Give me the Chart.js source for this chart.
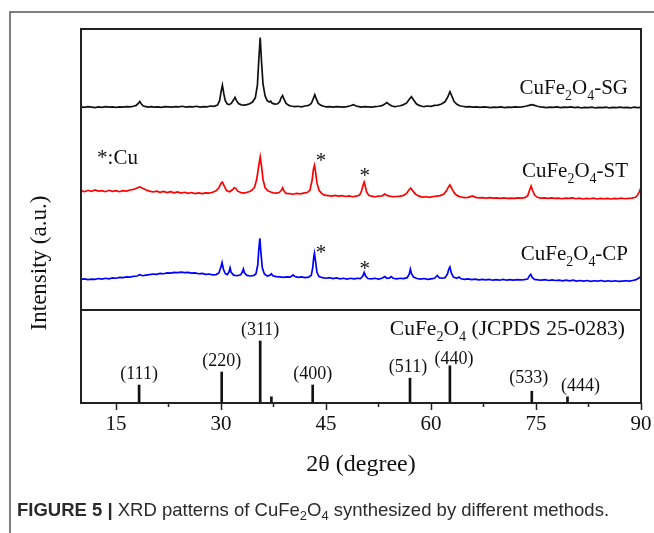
<!DOCTYPE html>
<html>
<head>
<meta charset="utf-8">
<script src="https://cdn.jsdelivr.net/npm/chart.js@4.4.0/dist/chart.umd.min.js"></script>
<style>
  html, body { margin: 0; padding: 0; background: #fff; }
  #wrap { width: 654px; height: 533px; position: relative; }
</style>
</head>
<body>
<div id="wrap"><canvas id="xrdChart"></canvas></div>
<script>
// 2θ axis
const xTicks = [15, 30, 45, 60, 75, 90];
const xMinorTicks = [22.5, 37.5, 52.5, 67.5, 82.5];

// measured patterns: [2θ, intensity above the pattern's own offset]
const sgPattern = [
  [10,0.3],[10.5,0.1],[11,0.4],[11.5,0.2],[12,0.0],[12.5,0.3],[13,0.1],[13.5,0.4],[14,0.2],[14.5,0.3],
  [15,0.1],[15.5,0.3],[16,0.2],[16.5,0.4],[17,0.3],[17.5,0.5],[17.9,0.8],[18.2,1.6],[18.4,2.2],[18.6,1.4],
  [18.9,0.6],[19.3,0.4],[19.5,0.2],[20,0.4],[20.5,0.2],[21,0.3],[21.5,0.1],[22,0.4],[22.5,0.3],[23,0.2],
  [23.5,0.4],[24,0.3],[24.5,0.5],[25,0.2],[25.5,0.4],[26,0.3],[26.5,0.5],[27,0.2],[27.5,0.4],[28,0.3],
  [28.5,0.6],[29,0.5],[29.5,0.9],[29.8,2.5],[30.0,5.5],[30.2,8.0],[30.4,5.0],[30.6,2.6],[30.9,1.3],[31.2,1.1],
  [31.5,1.6],[31.8,2.8],[32.0,3.7],[32.2,2.6],[32.5,1.5],[32.9,1.0],[33.3,0.9],[33.7,1.1],[34.1,1.4],[34.5,2.0],
  [34.9,3.5],[35.2,8.0],[35.4,17.0],[35.6,25.0],[35.8,16.0],[36.0,8.5],[36.3,4.2],[36.6,2.5],[36.9,2.0],[37.1,2.3],
  [37.3,1.6],[37.7,1.3],[38.1,1.4],[38.4,2.2],[38.6,3.6],[38.8,4.3],[39.0,3.0],[39.3,1.5],[39.7,0.8],[40.0,0.6],
  [40.5,0.4],[41,0.5],[41.5,0.3],[42,0.6],[42.5,0.8],[42.9,1.5],[43.2,3.3],[43.4,4.6],[43.6,3.2],[43.9,1.5],
  [44.3,0.8],[44.7,0.5],[45,0.3],[45.5,0.4],[46,0.2],[46.5,0.4],[47,0.3],[47.5,0.2],[48,0.4],[48.5,0.7],
  [48.9,1.1],[49.3,0.6],[49.7,0.4],[50,0.2],[50.5,0.4],[51,0.3],[51.5,0.2],[52,0.4],[52.5,0.5],[53,0.7],
  [53.4,1.3],[53.7,1.8],[54.0,1.2],[54.4,0.6],[54.8,0.4],[55.2,0.5],[55.6,0.7],[56.0,1.0],[56.5,1.6],[56.9,3.0],
  [57.2,3.9],[57.5,2.8],[57.9,1.4],[58.3,0.8],[58.7,0.5],[59,0.4],[59.5,0.6],[60,0.5],[60.5,0.8],[61,0.9],
  [61.5,1.3],[62.0,2.1],[62.4,3.8],[62.7,5.7],[63.0,4.0],[63.3,2.2],[63.7,1.2],[64.1,0.7],[64.5,0.5],[65,0.3],
  [65.5,0.4],[66,0.2],[66.5,0.3],[67,0.1],[67.5,0.3],[68,0.2],[68.5,0.0],[69,0.2],[69.5,0.1],[70,0.3],
  [70.5,0.0],[71,0.2],[71.5,0.1],[72,0.3],[72.5,0.2],[73,0.3],[73.5,0.5],[74,0.8],[74.4,1.1],[74.8,0.8],
  [75.2,0.5],[75.6,0.3],[76,0.2],[76.5,0.0],[77,0.2],[77.5,0.1],[78,0.3],[78.5,0.0],[79,0.2],[79.5,0.1],
  [80,0.3],[80.5,0.0],[81,0.2],[81.5,-0.1],[82,0.1],[82.5,0.0],[83,0.2],[83.5,-0.1],[84,0.1],[84.5,0.0],
  [85,0.2],[85.5,-0.1],[86,0.1],[86.5,0.0],[87,0.2],[87.5,0.0],[88,0.1],[88.5,-0.1],[89,0.2],[89.5,0.0],[90,0.1]
];
const stPattern = [
  [10,3.0],[10.5,2.6],[11,3.1],[11.5,2.7],[12,3.2],[12.5,2.8],[13,3.0],[13.5,2.6],[14,3.1],[14.5,2.7],
  [15,3.0],[15.5,2.6],[16,3.0],[16.5,2.8],[17,3.2],[17.5,3.4],[18.0,3.9],[18.4,4.3],[18.8,3.8],[19.3,3.2],
  [19.8,2.8],[20.3,2.5],[20.8,2.8],[21.3,2.4],[21.8,2.7],[22.3,2.3],[22.8,2.6],[23.3,2.2],[23.8,2.5],[24.3,2.1],
  [24.8,2.4],[25.3,2.0],[25.8,2.3],[26.3,1.9],[26.8,2.2],[27.3,1.9],[27.8,2.2],[28.3,2.1],[28.8,2.4],[29.3,2.9],
  [29.7,4.0],[30.0,5.6],[30.2,6.0],[30.5,4.4],[30.8,3.0],[31.2,2.6],[31.6,3.2],[31.9,4.0],[32.1,3.8],[32.4,2.8],
  [32.8,2.3],[33.2,2.1],[33.6,2.3],[34.0,2.6],[34.4,3.1],[34.8,4.2],[35.1,7.0],[35.4,12.0],[35.6,15.0],[35.8,11.5],
  [36.0,7.0],[36.3,4.0],[36.7,2.9],[37.1,2.5],[37.5,2.2],[37.9,2.1],[38.3,2.3],[38.6,3.0],[38.8,4.0],[39.0,2.8],
  [39.3,2.0],[39.8,1.9],[40.3,1.7],[40.8,2.0],[41.3,1.8],[41.8,2.1],[42.3,2.3],[42.7,3.1],[43.0,6.5],[43.2,10.5],
  [43.35,12.0],[43.5,9.8],[43.7,5.8],[44.0,3.1],[44.4,1.9],[44.8,1.4],[45.3,1.2],[45.8,1.0],[46.3,1.3],[46.8,1.0],
  [47.3,1.2],[47.8,0.9],[48.3,1.1],[48.8,0.8],[49.3,1.0],[49.8,1.4],[50.1,3.0],[50.3,5.0],[50.45,6.0],[50.6,4.6],
  [50.8,2.5],[51.1,1.3],[51.5,1.0],[52.0,0.8],[52.5,1.0],[53.0,1.1],[53.4,1.8],[53.7,1.3],[54.1,1.0],[54.6,0.8],
  [55.1,0.9],[55.6,1.0],[56.1,1.3],[56.5,2.0],[56.9,3.4],[57.1,3.9],[57.4,2.9],[57.8,1.7],[58.3,1.0],[58.8,0.7],
  [59.3,0.8],[59.8,0.6],[60.3,0.9],[60.8,1.0],[61.3,1.2],[61.8,1.7],[62.2,2.9],[62.5,4.3],[62.7,5.0],[63.0,3.6],
  [63.4,1.9],[63.8,1.1],[64.3,0.7],[64.8,0.5],[65.3,0.6],[65.9,1.1],[66.4,0.6],[66.9,0.4],[67.4,0.5],[67.9,0.3],
  [68.4,0.5],[68.9,0.3],[69.4,0.4],[69.9,0.2],[70.4,0.4],[70.9,0.2],[71.4,0.3],[71.9,0.2],[72.4,0.4],[72.9,0.3],
  [73.4,0.5],[73.8,1.1],[74.1,3.3],[74.3,4.6],[74.5,3.1],[74.8,1.4],[75.2,0.6],[75.7,0.3],[76.2,0.4],[76.7,0.2],
  [77.2,0.4],[77.7,0.2],[78.2,0.3],[78.7,0.1],[79.2,0.3],[79.7,0.2],[80.2,0.4],[80.7,0.1],[81.2,0.3],[81.7,0.0],
  [82.2,0.2],[82.7,0.1],[83.2,0.3],[83.7,0.0],[84.2,0.2],[84.7,0.1],[85.2,0.2],[85.7,0.0],[86.2,0.2],[86.7,0.1],
  [87.2,0.3],[87.7,0.1],[88.2,0.2],[88.7,0.3],[89.2,0.6],[89.5,1.3],[89.8,2.8],[90.0,4.1]
];
const cpPattern = [
  [10,0.9],[10.5,1.1],[11,0.8],[11.5,1.0],[12,0.9],[12.5,1.2],[13,1.0],[13.5,1.3],[14,1.1],[14.5,1.4],
  [15,1.3],[15.5,1.6],[16,1.5],[16.5,1.8],[17,1.7],[17.5,2.0],[18,2.1],[18.4,2.6],[18.8,2.2],[19.3,2.4],
  [19.8,2.6],[20.3,2.8],[20.8,2.7],[21.3,3.0],[21.8,2.9],[22.3,3.2],[22.8,3.1],[23.3,3.4],[23.8,3.3],[24.3,3.5],
  [24.8,3.3],[25.3,3.4],[25.8,3.1],[26.3,3.2],[26.8,2.9],[27.3,3.0],[27.8,2.7],[28.3,2.8],[28.8,2.5],[29.3,2.6],
  [29.7,3.2],[29.95,5.0],[30.15,6.9],[30.35,4.5],[30.6,3.0],[30.9,2.6],[31.15,3.6],[31.3,5.0],[31.45,3.4],[31.8,2.4],
  [32.3,2.2],[32.8,2.5],[33.05,3.5],[33.2,4.6],[33.35,3.2],[33.7,2.3],[34.2,2.1],[34.7,2.3],[35.0,2.9],[35.25,6.0],
  [35.4,11.5],[35.55,15.5],[35.7,10.5],[35.9,5.0],[36.2,2.8],[36.6,2.1],[37.0,2.4],[37.2,2.9],[37.4,2.2],[37.9,1.9],
  [38.4,1.8],[38.9,1.6],[39.4,1.8],[39.9,1.7],[40.3,2.5],[40.5,2.0],[41.0,1.6],[41.5,1.8],[42.0,1.5],[42.5,1.7],
  [42.9,2.4],[43.1,5.0],[43.25,8.8],[43.35,10.2],[43.5,7.5],[43.7,3.5],[44.0,1.9],[44.5,1.5],[45.0,1.3],[45.5,1.5],
  [46.0,1.2],[46.5,1.4],[47.0,1.1],[47.5,1.3],[48.0,1.0],[48.5,1.3],[49.0,1.1],[49.5,1.3],[49.9,1.2],[50.25,2.0],
  [50.45,3.4],[50.65,2.1],[51.0,1.2],[51.5,1.1],[52.0,1.3],[52.5,1.0],[53.0,1.3],[53.4,1.9],[53.7,1.3],[54.1,1.4],
  [54.3,1.9],[54.6,1.3],[55.1,1.1],[55.6,1.3],[56.1,1.2],[56.6,1.5],[56.9,2.8],[57.05,4.5],[57.2,3.0],[57.5,1.7],
  [58.0,1.2],[58.5,1.0],[59.0,1.2],[59.5,0.9],[60.0,1.1],[60.5,1.3],[60.9,2.3],[61.2,1.4],[61.6,1.3],[62.0,1.5],
  [62.35,2.8],[62.55,4.6],[62.7,5.3],[62.9,3.2],[63.2,1.7],[63.7,1.3],[64.0,1.7],[64.3,1.1],[64.8,0.9],[65.3,1.1],
  [65.8,0.8],[66.3,1.0],[66.8,0.7],[67.3,0.9],[67.8,0.7],[68.3,0.9],[68.8,0.6],[69.3,0.8],[69.8,0.6],[70.3,0.9],
  [70.8,0.6],[71.3,0.8],[71.8,0.6],[72.3,0.8],[72.8,0.7],[73.3,0.8],[73.8,1.0],[74.1,2.3],[74.25,2.7],[74.45,1.6],
  [74.8,0.9],[75.3,0.7],[75.8,0.6],[76.3,0.8],[76.8,0.5],[77.3,0.7],[77.8,0.5],[78.3,0.6],[78.8,0.4],[79.3,0.6],
  [79.8,0.4],[80.3,0.6],[80.8,0.3],[81.3,0.5],[81.8,0.3],[82.3,0.5],[82.8,0.2],[83.3,0.4],[83.8,0.3],[84.3,0.5],
  [84.8,0.2],[85.3,0.4],[85.8,0.2],[86.3,0.4],[86.8,0.2],[87.3,0.3],[87.8,0.4],[88.3,0.3],[88.8,0.5],[89.3,0.8],
  [89.7,1.4],[90.0,1.9]
];
const patterns = [sgPattern, stPattern, cpPattern];
const sampleNames = ['SG', 'ST', 'CP'];
const sampleOffsets = [72, 39.5, 10];
const sampleColors = ['#111111', '#ff0000', '#0000ff'];

// CuFe2O4 reference, JCPDS 25-0283
const refPositions = [18.3, 30.1, 35.6, 37.2, 43.1, 57.0, 62.7, 74.4, 79.5];
const refIntensity = [29, 50, 100, 10, 29, 40, 60, 19, 10];
const refHkl = ['(111)', '(220)', '(311)', '', '(400)', '(511)', '(440)', '(533)', '(444)'];

// metallic Cu reflections marked with *
const cuPeaks = [43.3, 50.4];

// label placement (pixels), kept apart from the data
const hklShift = [[0, 11], [0, 11], [0, 11], [0, 11], [0, 11], [-2, 11], [4, 7], [-3, 13], [13, 11]];
const starShift = { ST: [[7, -8], [1, -10]], CP: [[7, -4], [1, -7]] };
const nameLabelY = [79.4, 49.8, 20.3];

const SERIF = '"Liberation Serif", "Times New Roman", serif';
const INK = '#111';

function drawFormula(ctx, parts, x, y, size, align) {
    // parts: [text, kind]; kind 'sub' = subscript
    const fontOf = (p) => {
        if (p[1] === 'sub') return (size * 0.66).toFixed(1) + 'px ' + SERIF;
        return size + 'px ' + SERIF;
    };
    let total = 0;
    parts.forEach(p => { ctx.font = fontOf(p); total += ctx.measureText(p[0]).width; });
    let cx = align === 'right' ? x - total : (align === 'center' ? x - total / 2 : x);
    ctx.textAlign = 'left';
    ctx.textBaseline = 'alphabetic';
    parts.forEach(p => {
        ctx.font = fontOf(p);
        ctx.fillText(p[0], cx, y + (p[1] === 'sub' ? size * 0.28 : 0));
        cx += ctx.measureText(p[0]).width;
    });
}

function peakTop(pattern, pos) {
    let best = -Infinity;
    pattern.forEach(p => { if (Math.abs(p[0] - pos) < 0.4 && p[1] > best) best = p[1]; });
    return best;
}

const decorPlugin = {
    id: 'decor',
    afterDraw(chart) {
        const { ctx, chartArea: a, scales } = chart;
        const x = scales.x, y = scales.y, yRef = scales.yRef;
        ctx.save();

        // outer figure frame
        ctx.strokeStyle = '#555';
        ctx.lineWidth = 1.5;
        ctx.beginPath();
        ctx.moveTo(10, chart.height);
        ctx.lineTo(10, 12);
        ctx.lineTo(chart.width, 12);
        ctx.stroke();

        // plot box and panel divider
        ctx.strokeStyle = '#222';
        ctx.lineWidth = 2;
        ctx.strokeRect(a.left, a.top, a.right - a.left, a.bottom - a.top);
        ctx.beginPath();
        ctx.moveTo(a.left, y.bottom);
        ctx.lineTo(a.right, y.bottom);
        ctx.stroke();

        // minor ticks
        ctx.lineWidth = 1.5;
        ctx.beginPath();
        xMinorTicks.forEach(v => {
            const px = x.getPixelForValue(v);
            ctx.moveTo(px, a.bottom);
            ctx.lineTo(px, a.bottom + 4);
        });
        ctx.stroke();

        ctx.fillStyle = INK;

        // sample names
        sampleNames.forEach((n, i) => {
            const py = y.getPixelForValue(nameLabelY[i]);
            drawFormula(ctx, [['CuFe', ''], ['2', 'sub'], ['O', ''], ['4', 'sub'], ['-' + n, '']],
                a.right - 13, py + 7, 21, 'right');
        });

        // Cu markers
        ctx.font = '21px ' + SERIF;
        ctx.textAlign = 'center';
        ctx.textBaseline = 'alphabetic';
        [['ST', 1], ['CP', 2]].forEach(([n, i]) => {
            cuPeaks.forEach((pos, k) => {
                const top = peakTop(patterns[i], pos) + sampleOffsets[i];
                const s = starShift[n][k];
                ctx.fillText('*', x.getPixelForValue(pos) + s[0], y.getPixelForValue(top) + s[1] + 10);
            });
        });
        ctx.textAlign = 'left';
        ctx.fillText('*:Cu', x.getPixelForValue(12.3), y.getPixelForValue(54.5) + 7);

        // hkl labels
        ctx.font = '18px ' + SERIF;
        ctx.textAlign = 'center';
        ctx.textBaseline = 'middle';
        refHkl.forEach((t, i) => {
            if (!t) return;
            const px = x.getPixelForValue(refPositions[i]) + hklShift[i][0];
            const py = yRef.getPixelForValue(refIntensity[i]) - hklShift[i][1];
            ctx.fillText(t, px, py);
        });

        // reference card label
        drawFormula(ctx, [['CuFe', ''], ['2', 'sub'], ['O', ''], ['4', 'sub'], [' (JCPDS 25-0283)', '']],
            a.right - 16, yRef.getPixelForValue(121) + 7, 21.5, 'right');

        // y axis title
        ctx.save();
        ctx.translate(40, 263);
        ctx.rotate(-Math.PI / 2);
        ctx.font = '23px ' + SERIF;
        ctx.textAlign = 'center';
        ctx.textBaseline = 'middle';
        ctx.fillText('Intensity (a.u.)', 0, 0);
        ctx.restore();

        // caption
        const sans = '"Liberation Sans", Arial, sans-serif';
        const cap = [
            ['FIGURE 5', 'bold 18.5px ' + sans, 0],
            [' | ', 'bold 18.5px ' + sans, 0],
            ['XRD patterns of CuFe', '18.5px ' + sans, 0],
            ['2', '13px ' + sans, 4],
            ['O', '18.5px ' + sans, 0],
            ['4', '13px ' + sans, 4],
            [' synthesized by different methods.', '18.5px ' + sans, 0]
        ];
        ctx.fillStyle = '#2b2b2b';
        ctx.textAlign = 'left';
        ctx.textBaseline = 'alphabetic';
        let cx = 17;
        cap.forEach(c => {
            ctx.font = c[1];
            ctx.fillText(c[0], cx, 516 + c[2]);
            cx += ctx.measureText(c[0]).width;
        });

        ctx.restore();
    }
};

const datasets = patterns.map((pat, i) => ({
    label: 'CuFe2O4-' + sampleNames[i],
    data: pat.map(p => ({ x: p[0], y: p[1] + sampleOffsets[i] })),
    borderColor: sampleColors[i],
    borderWidth: 1.7,
    pointRadius: 0,
    tension: 0,
    yAxisID: 'y'
}));
datasets.push({
    type: 'bar',
    label: 'JCPDS 25-0283',
    data: refPositions.map((p, i) => ({ x: p, y: refIntensity[i] })),
    backgroundColor: INK,
    barThickness: 2,
    yAxisID: 'yRef'
});

new Chart(document.getElementById('xrdChart'), {
    type: 'line',
    data: { datasets },
    options: {
        responsive: true,
        maintainAspectRatio: false,
        animation: false,
        devicePixelRatio: 1,
        events: [],
        layout: { padding: { left: 0, right: 13, top: 29, bottom: 0 } },
        plugins: { legend: { display: false }, tooltip: { enabled: false } },
        scales: {
            x: {
                type: 'linear',
                min: 10,
                max: 90,
                offset: false,
                afterBuildTicks: s => { s.ticks = xTicks.map(v => ({ value: v })); },
                afterFit: s => { s.height = 130; },
                grid: { offset: false, drawOnChartArea: false, drawTicks: true, tickLength: 7, tickColor: '#222', tickWidth: 1.5 },
                border: { display: false },
                ticks: { color: INK, font: { family: SERIF, size: 21 }, padding: 2, maxRotation: 0 },
                title: {
                    display: true, text: '2θ (degree)', color: INK,
                    font: { family: SERIF, size: 24 }, padding: { top: 4, bottom: 54 }
                }
            },
            yRef: {
                type: 'linear', min: 0, max: 150, position: 'left',
                stack: 'xrd', stackWeight: 93,
                afterFit: s => { s.width = 81; },
                ticks: { display: false }, grid: { display: false }, border: { display: false }
            },
            y: {
                type: 'linear', min: 0, max: 100, position: 'left',
                stack: 'xrd', stackWeight: 281,
                afterFit: s => { s.width = 81; },
                ticks: { display: false }, grid: { display: false }, border: { display: false }
            }
        }
    },
    plugins: [decorPlugin]
});
</script>
</body>
</html>
